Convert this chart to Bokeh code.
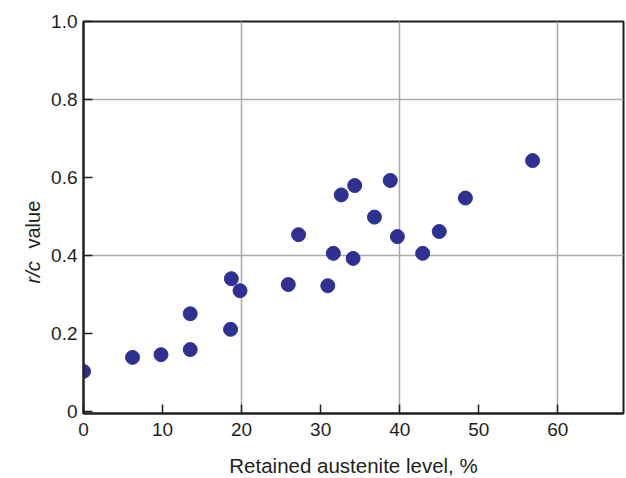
import math
from bokeh.plotting import figure
from bokeh.layouts import row
from bokeh.models import Range1d, FixedTicker, ColumnDataSource
from bokeh.core.properties import value
from bokeh.embed import file_html
from bokeh.resources import INLINE

# Data
austenite = [0.0, 6.2, 9.8, 13.5, 13.5, 18.6, 18.7, 19.8, 25.9, 27.2, 30.9,
             31.6, 32.6, 34.3, 34.1, 36.8, 38.8, 39.7, 42.9, 45.0, 48.3, 56.8]
rc_value = [0.102, 0.138, 0.145, 0.158, 0.250, 0.210, 0.340, 0.309, 0.325, 0.453, 0.322,
            0.405, 0.555, 0.579, 0.392, 0.498, 0.592, 0.448, 0.405, 0.461, 0.547, 0.643]

x_ticks = [0, 10, 20, 30, 40, 50, 60]
x_grid = [20, 40, 60]
y_ticks = [0, 0.2, 0.4, 0.6, 0.8, 1.0]
y_tick_labels = ["0", "0.2", "0.4", "0.6", "0.8", "1.0"]
y_grid = [0.4, 0.8]
x_title = "Retained austenite level, %"
y_title_parts = ["r/c", "value"]

FONT = "Liberation Sans"
AX = "#231f20"
DOT = "#2e3192"
H = 478
LW = 45

# narrow panel holding the mixed-style y-axis title (1 data unit = 1 pixel)
t = figure(frame_width=LW, frame_height=H, output_backend="svg", toolbar_location=None,
           x_range=Range1d(0, LW), y_range=Range1d(0, H),
           x_axis_type=None, y_axis_type=None,
           min_border=0, outline_line_color=None)
t.grid.visible = False
t.text(x=[32], y=[H - 262], text=[y_title_parts[0]], angle=math.pi / 2,
       text_font=value(FONT), text_font_size="20px", text_font_style="italic",
       text_color=AX, text_align="left", text_baseline="alphabetic")
t.text(x=[32], y=[H - 227], text=[y_title_parts[1]], angle=math.pi / 2,
       text_font=value(FONT), text_font_size="20px",
       text_color=AX, text_align="left", text_baseline="alphabetic")

p = figure(frame_width=540, frame_height=392, output_backend="svg", toolbar_location=None,
           x_range=Range1d(0, 68.3), y_range=Range1d(-0.006, 1.0),
           min_border_left=83 - LW, min_border_right=3, min_border_top=21, min_border_bottom=65)

p.outline_line_color = AX
p.outline_line_width = 2
p.outline_line_alpha = 1.0

src = ColumnDataSource(dict(x=austenite, y=rc_value))
p.scatter("x", "y", source=src, size=14, fill_color=DOT, line_color=DOT)

for ax in (p.xaxis[0], p.yaxis[0]):
    ax.axis_line_color = AX
    ax.axis_line_width = 2
    ax.major_tick_in = 9
    ax.major_tick_out = 0
    ax.major_tick_line_color = AX
    ax.major_tick_line_width = 1.5
    ax.minor_tick_line_color = None
    ax.major_label_text_font = FONT
    ax.major_label_text_font_size = "19px"
    ax.major_label_text_color = AX

p.xaxis.ticker = FixedTicker(ticks=x_ticks)
p.yaxis.ticker = FixedTicker(ticks=y_ticks)
p.yaxis.major_label_overrides = {tk: s for tk, s in zip(y_ticks, y_tick_labels)}
p.xaxis.major_label_standoff = 9
p.yaxis.major_label_standoff = 6

p.xaxis.axis_label = x_title
p.xaxis.axis_label_text_font = FONT
p.xaxis.axis_label_text_font_size = "20.5px"
p.xaxis.axis_label_text_font_style = "normal"
p.xaxis.axis_label_text_color = AX
p.xaxis.axis_label_standoff = 15

p.xgrid.ticker = FixedTicker(ticks=x_grid)
p.ygrid.ticker = FixedTicker(ticks=y_grid)
p.grid.grid_line_color = "#aaaaaa"
p.grid.grid_line_width = 1.5

open("out.html", "w").write(file_html(row(t, p), INLINE))
